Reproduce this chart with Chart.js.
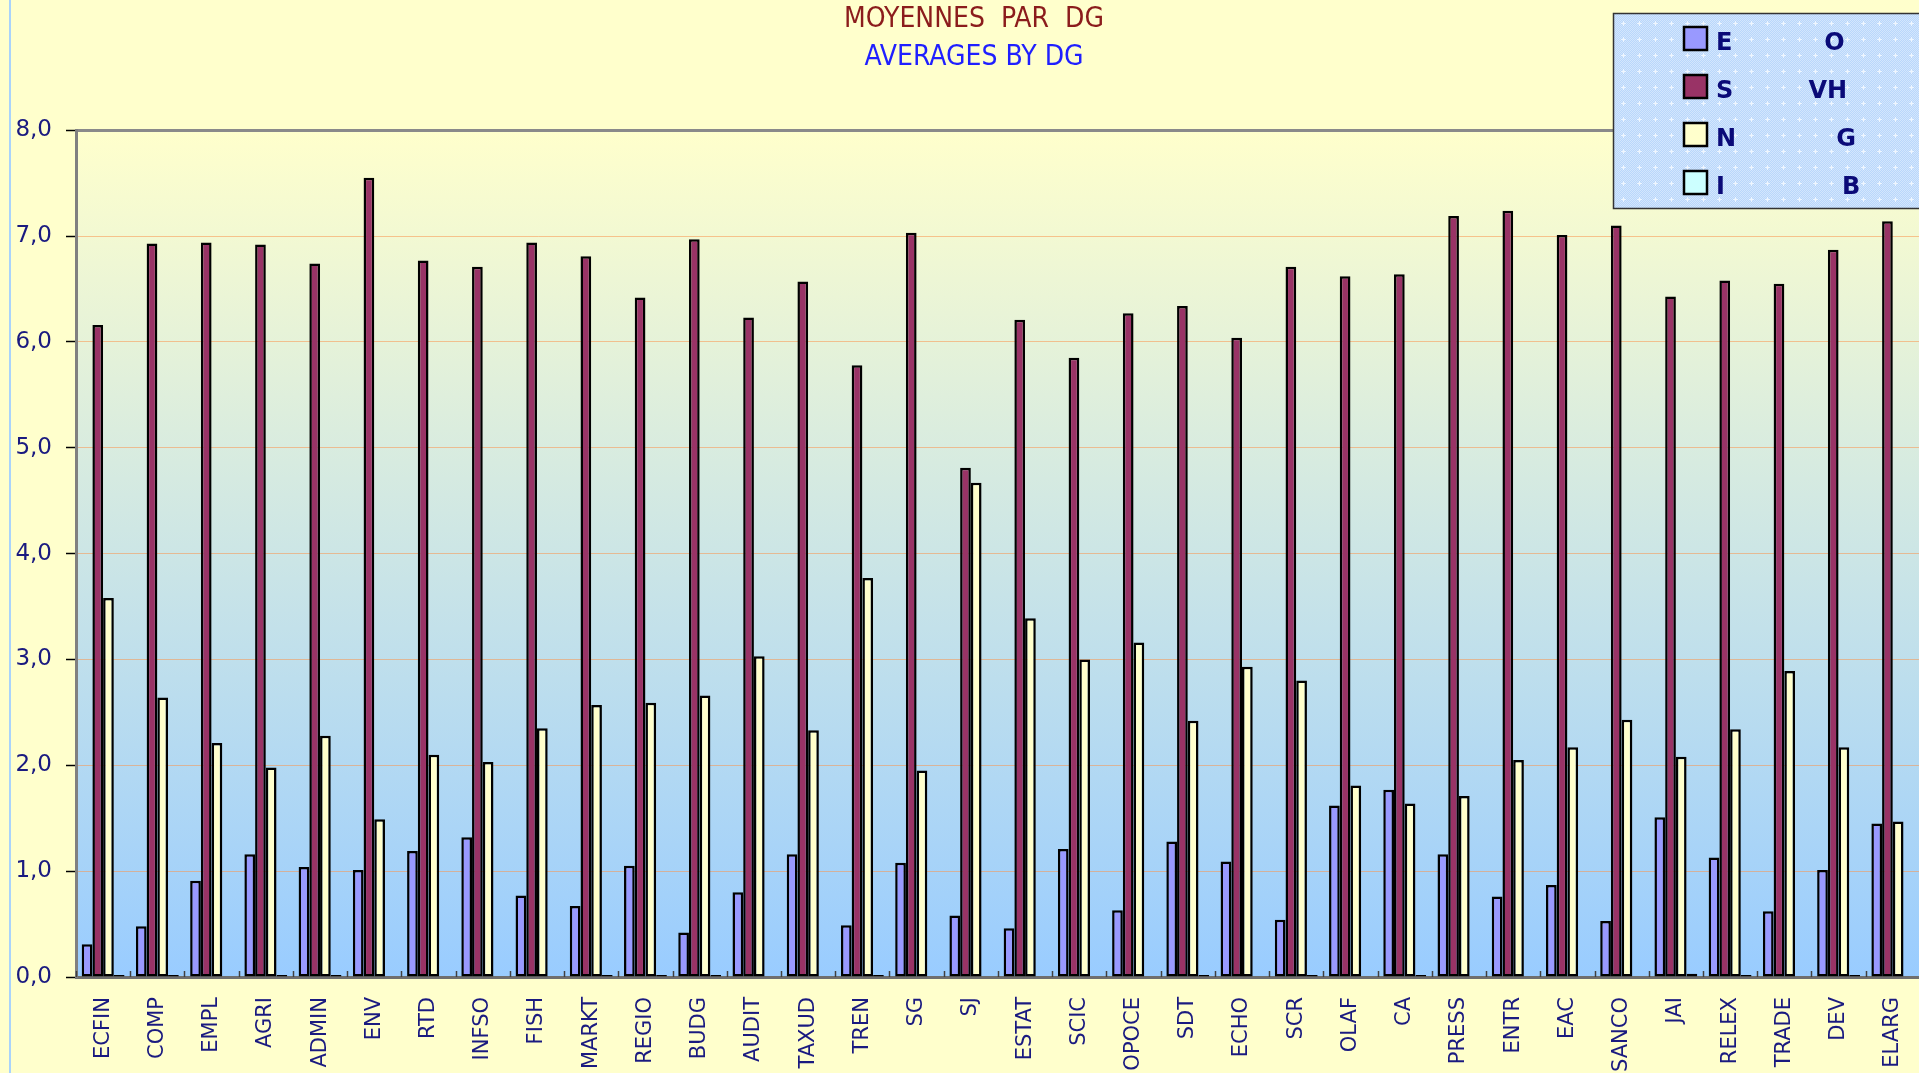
<!DOCTYPE html>
<html>
<head>
<meta charset="utf-8">
<title>Moyennes par DG</title>
<script src="https://cdn.jsdelivr.net/npm/chart.js@4.4.1/dist/chart.umd.min.js"></script>
<style>
    html, body { margin: 0; padding: 0; background: #ffffcc; overflow: hidden; }
    #wrap { position: relative; width: 1919px; height: 1073px; overflow: hidden; }
    #edge { position: absolute; left: 9px; top: 0; width: 2px; height: 1073px; background: #a9d3fb; }
    #ChartAverages { position: absolute; left: 0; top: 0; }
</style>
</head>
<body>
<div id="wrap">
    <div id="edge"></div>
    <!-- a bit wider than the window: the plot runs off the right edge like the original -->
    <canvas id="ChartAverages" width="1938" height="1073"></canvas>
</div>
<script>
// DGs on the x axis
const categories = ['ECFIN', 'COMP', 'EMPL', 'AGRI', 'ADMIN', 'ENV', 'RTD', 'INFSO', 'FISH', 'MARKT',
    'REGIO', 'BUDG', 'AUDIT', 'TAXUD', 'TREN', 'SG', 'SJ', 'ESTAT', 'SCIC', 'OPOCE', 'SDT', 'ECHO',
    'SCR', 'OLAF', 'CA', 'PRESS', 'ENTR', 'EAC', 'SANCO', 'JAI', 'RELEX', 'TRADE', 'DEV', 'ELARG'];

// averages
const seriesE = [0.31, 0.48, 0.91, 1.16, 1.04, 1.01, 1.19, 1.32, 0.77, 0.67, 1.05, 0.42, 0.80, 1.16, 0.49, 1.08, 0.58,
    0.46, 1.21, 0.63, 1.28, 1.09, 0.54, 1.62, 1.77, 1.16, 0.76, 0.87, 0.53, 1.51, 1.13, 0.62, 1.01, 1.45];
const seriesS = [6.16, 6.93, 6.94, 6.92, 6.74, 7.55, 6.77, 6.71, 6.94, 6.81, 6.42, 6.97, 6.23, 6.57, 5.78, 7.03, 4.81,
    6.21, 5.85, 6.27, 6.34, 6.04, 6.71, 6.62, 6.64, 7.19, 7.24, 7.01, 7.10, 6.43, 6.58, 6.55, 6.87, 7.14];
const seriesN = [3.58, 2.64, 2.21, 1.98, 2.28, 1.49, 2.10, 2.03, 2.35, 2.57, 2.59, 2.66, 3.03, 2.33, 3.77, 1.95, 4.67,
    3.39, 3.00, 3.16, 2.42, 2.93, 2.80, 1.81, 1.64, 1.71, 2.05, 2.17, 2.43, 2.08, 2.34, 2.89, 2.17, 1.47];
const seriesI = [0.02, 0.02, 0, 0.02, 0.02, 0, 0, 0, 0, 0.02, 0.02, 0.02, 0, 0, 0.02, 0, 0,
    0, 0, 0, 0.02, 0, 0.02, 0, 0.02, 0, 0, 0, 0, 0.03, 0.02, 0, 0.02, 0];

const seriesLabels = ['E           O', 'S         VH', 'N            G', 'I              B'];
const seriesColors = ['#9999ff', '#993366', '#ffffcc', '#ccffff'];
const yTickLabels = ['0,0', '1,0', '2,0', '3,0', '4,0', '5,0', '6,0', '7,0', '8,0'];

const navy = '#1a1a80';
const titleFont = "'DejaVu Sans Condensed', 'Liberation Sans Narrow', 'DejaVu Sans', sans-serif";

// yellow -> blue fill behind the bars
const plotBackground = {
    id: 'plotBackground',
    beforeDraw(chart) {
        const {ctx, chartArea: a} = chart;
        const g = ctx.createLinearGradient(0, a.top, 0, a.bottom);
        g.addColorStop(0, '#ffffcc');
        g.addColorStop(1, '#99ccff');
        ctx.save();
        ctx.fillStyle = g;
        ctx.fillRect(a.left, a.top, a.right - a.left, a.bottom - a.top);
        ctx.restore();
    }
};

// small inward tick marks between the DG groups
const categoryTicks = {
    id: 'categoryTicks',
    afterDatasetsDraw(chart) {
        const xs = chart.scales.x, ctx = chart.ctx, bottom = chart.chartArea.bottom;
        const half = (xs.getPixelForValue(1) - xs.getPixelForValue(0)) / 2;
        ctx.save();
        ctx.strokeStyle = '#404040';
        ctx.lineWidth = 1.5;
        for (let i = 0; i <= categories.length; i++) {
            const x = Math.round(xs.getPixelForValue(i) - half) + 0.5;
            ctx.beginPath();
            ctx.moveTo(x, bottom - 6);
            ctx.lineTo(x, bottom);
            ctx.stroke();
        }
        ctx.restore();
    }
};

function legendPattern(ctx) {
    const c = document.createElement('canvas');
    c.width = 16; c.height = 16;
    const p = c.getContext('2d');
    p.fillStyle = '#b9d7fb';
    p.fillRect(0, 0, 16, 16);
    p.fillStyle = '#d3e6fd';
    for (let y = 0; y < 16; y++) {
        for (let x = y % 2; x < 16; x += 2) p.fillRect(x, y, 1, 1);
    }
    p.fillStyle = '#eef6ff';
    p.fillRect(7, 5, 1, 5);
    p.fillRect(5, 7, 5, 1);
    return ctx.createPattern(c, 'repeat');
}

// the dotted legend box in the top right corner
const legendBox = {
    id: 'legendBox',
    afterDraw(chart) {
        const ctx = chart.ctx;
        ctx.save();
        ctx.fillStyle = legendPattern(ctx);
        ctx.fillRect(1613, 13, 340, 195);
        ctx.strokeStyle = '#333333';
        ctx.lineWidth = 1.5;
        ctx.strokeRect(1613.5, 13.5, 340, 195);
        chart.data.datasets.forEach((ds, i) => {
            const cy = 38 + i * 48;
            ctx.fillStyle = ds.backgroundColor;
            ctx.fillRect(1684, cy - 11, 23, 23);
            ctx.lineWidth = 2.5;
            ctx.strokeStyle = '#000000';
            ctx.strokeRect(1684, cy - 11, 23, 23);
            ctx.fillStyle = '#0a0a78';
            ctx.font = "bold 24px 'DejaVu Sans'";
            ctx.textBaseline = 'alphabetic';
            ctx.fillText(ds.label, 1716, cy + 12);
        });
        ctx.restore();
    }
};

const seriesValues = [seriesE, seriesS, seriesN, seriesI];

const ChartAverages = new Chart(document.getElementById('ChartAverages'), {
    type: 'bar',
    data: {
        labels: categories,
        datasets: seriesValues.map((vals, i) => ({
            label: seriesLabels[i],
            data: vals,
            backgroundColor: seriesColors[i],
            borderColor: '#000000',
            borderWidth: 2.5,
            borderSkipped: false,
            categoryPercentage: 0.79,
            barPercentage: 1.0
        }))
    },
    options: {
        responsive: false,
        animation: false,
        layout: { padding: { left: 10, right: 0, top: 0, bottom: 0 } },
        plugins: {
            legend: { display: false },
            tooltip: { enabled: false },
            title: {
                display: true,
                text: 'MOYENNES  PAR  DG',
                color: '#8b1c1c',
                font: { family: titleFont, size: 28, weight: 'normal' },
                padding: { top: 3, bottom: 4 }
            },
            subtitle: {
                display: true,
                text: 'AVERAGES BY DG',
                color: '#1f1fff',
                font: { family: titleFont, size: 28, weight: 'normal' },
                padding: { top: 0, bottom: 56 }
            }
        },
        scales: {
            x: {
                grid: { display: false, drawTicks: false },
                border: { color: '#6f6f6f', width: 3 },
                ticks: {
                    autoSkip: false,
                    minRotation: 90,
                    maxRotation: 90,
                    padding: 20,
                    color: navy,
                    font: { family: 'DejaVu Sans', size: 21 }
                },
                afterFit(scale) { scale.height = 96; }
            },
            y: {
                min: 0,
                max: 8,
                ticks: {
                    stepSize: 1,
                    padding: 14,
                    color: navy,
                    font: { family: 'DejaVu Sans', size: 23 },
                    callback: (v, i) => yTickLabels[i]
                },
                grid: {
                    color: c => (c.tick && c.tick.value === 8) ? '#8a8a8a' : 'rgba(250,150,80,0.55)',
                    lineWidth: c => (c.tick && c.tick.value === 8) ? 3 : 1,
                    tickColor: '#000000',
                    tickLength: 10,
                    tickWidth: 1.5
                },
                border: { color: '#808080', width: 3 },
                afterFit(scale) { scale.width = 66; }
            }
        }
    },
    plugins: [plotBackground, categoryTicks, legendBox]
});
</script>
</body>
</html>
